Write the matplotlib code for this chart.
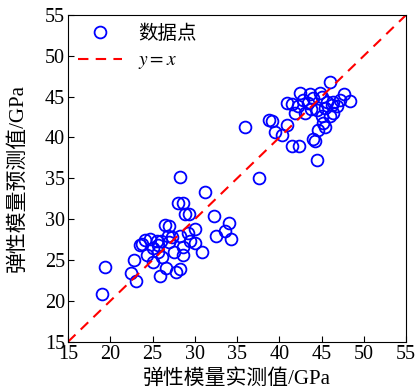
import matplotlib
matplotlib.use("Agg")
from matplotlib import pyplot as plt

meas = [19.0, 19.4, 22.5, 23.0, 22.85, 23.5, 23.8, 24.3, 24.7, 24.1,
        25.0, 25.1, 25.5, 26.0, 26.1, 25.6, 26.5, 27.0, 26.8, 27.3,
        28.3, 29.2, 30.0, 29.4, 30.0, 28.6, 30.8, 28.6, 26.6, 25.9,
        27.8, 28.2, 28.2, 31.2, 28.0, 28.6, 28.8, 29.3, 32.3, 34.1,
        33.6, 32.5, 34.3, 25.6, 26.9, 27.5,
        35.9, 37.6, 38.8, 39.1, 39.5, 40.3, 40.9, 40.9, 41.5, 41.5,
        42.3, 41.9, 42.5, 43.0, 43.4, 44.0, 44.4, 44.8, 45.4, 45.6,
        46.0, 46.2, 45.0, 46.0, 45.2, 45.4, 44.6, 44.0, 44.2, 44.4,
        46.8, 47.2, 47.6, 48.4, 46.4, 46.4, 42.8, 43.8, 45.0, 42.2,
        43.6]
pred = [20.9, 24.1, 23.4, 22.5, 25.0, 26.9, 27.0, 25.6, 27.6, 27.5,
        24.8, 26.5, 27.3, 27.35, 25.4, 26.0, 29.3, 29.2, 28.0, 27.8,
        27.9, 28.3, 28.8, 27.3, 27.1, 26.6, 26.0, 25.6, 24.0, 23.0,
        23.5, 23.9, 35.2, 33.3, 32.0, 32.0, 30.7, 30.6, 30.4, 29.5,
        28.6, 27.9, 27.6, 26.8, 27.2, 26.0,
        41.3, 35.0, 42.2, 42.0, 40.7, 40.3, 41.5, 44.2, 44.1, 39.0,
        39.0, 43.0, 45.5, 43.0, 44.2, 44.8, 43.4, 45.5, 43.6, 44.4,
        46.8, 44.0, 42.6, 42.6, 41.8, 41.3, 40.9, 39.8, 39.6, 37.3,
        43.9, 44.6, 45.3, 44.5, 44.4, 43.0, 44.6, 43.5, 44.9, 43.9,
        45.3]
lims = [15, 55]
ticks = [15, 20, 25, 30, 35, 40, 45, 50, 55]

plt.rcParams['font.family'] = ['Liberation Serif', 'Noto Sans CJK SC']
plt.rcParams['mathtext.fontset'] = 'stix'
plt.rcParams['axes.unicode_minus'] = False

fig = plt.figure(figsize=(4.17, 3.92), dpi=100)
ax = fig.add_axes([0.163, 0.128, 0.811, 0.834])

ax.plot(meas, pred, 'o', ls='none', mfc='none', mec='#0000ff', ms=8.5, mew=1.3, label='数据点')
ax.plot(lims, lims, '--', color='#ff0000', lw=1.5, dashes=(5, 3.5), label='$y=x$')

ax.set_xlim(lims)
ax.set_ylim(lims)
ax.set_xticks(ticks)
ax.set_yticks(ticks)
ax.tick_params(direction='in', labelsize=14.5, length=4, width=0.8, pad=2)
for s in ax.spines.values():
    s.set_linewidth(0.8)

ax.set_xlabel('弹性模量实测值/GPa', fontsize=15)
ax.set_ylabel('弹性模量预测值/GPa', fontsize=15)
ax.xaxis.set_label_coords(0.5, -0.085)
ax.yaxis.set_label_coords(-0.12, 0.5)

ax.legend(loc='upper left', frameon=False, fontsize=14, handlelength=2.3,
          borderaxespad=0.1, handletextpad=0.8, labelspacing=0.45)

fig.savefig('out.png', dpi=100)
